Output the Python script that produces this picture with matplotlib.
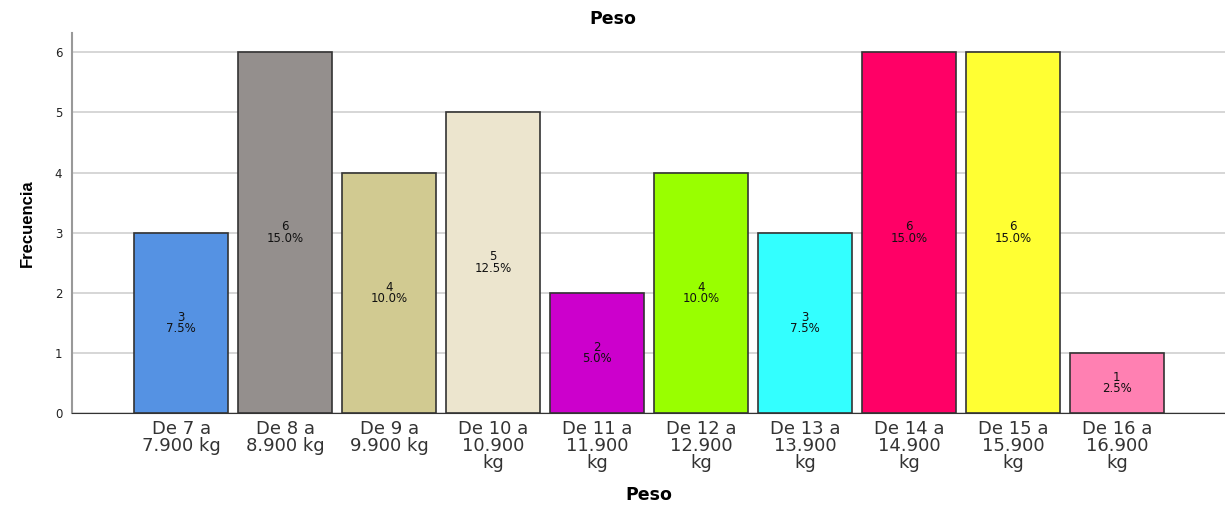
"""Bar chart of weight frequency ranges (Peso)."""
import matplotlib
matplotlib.use("Agg")
import matplotlib.pyplot as plt

# Data
categories = ["De 7 a\n7.900 kg", "De 8 a\n8.900 kg", "De 9 a\n9.900 kg",
              "De 10 a\n10.900\nkg", "De 11 a\n11.900\nkg", "De 12 a\n12.900\nkg",
              "De 13 a\n13.900\nkg", "De 14 a\n14.900\nkg", "De 15 a\n15.900\nkg",
              "De 16 a\n16.900\nkg"]
counts = [3, 6, 4, 5, 2, 4, 3, 6, 6, 1]
percents = [7.5, 15.0, 10.0, 12.5, 5.0, 10.0, 7.5, 15.0, 15.0, 2.5]
colors = ["#5592E3", "#948F8D", "#D1CA91", "#ECE5CE", "#CC00CC",
          "#99FF00", "#33FFFF", "#FF0066", "#FFFF33", "#FF80B2"]
yticks = [0, 1, 2, 3, 4, 5, 6]

plt.rcParams["font.family"] = ["DejaVu Sans"]

fig = plt.figure(figsize=(12.25, 5.08), dpi=100)
ax = fig.add_axes([0.0588, 0.187, 0.9412, 0.748])

x = list(range(len(counts)))
ax.bar(x, counts, width=0.9, color=colors, edgecolor="#333333",
       linewidth=1.2, zorder=3)

for xi, c, p in zip(x, counts, percents):
    ax.text(xi, c / 2, f"{c}\n{p:.1f}%", ha="center", va="center",
            fontsize=8.5, linespacing=0.85, color="#111111", zorder=4)

ax.set_xlim(-1.05, 10.04)
ax.set_ylim(0, 6.32)
ax.set_yticks(yticks)
ax.tick_params(axis="y", length=0, labelsize=8.5, pad=7, labelcolor="#222222")
ax.set_xticks(x)
ax.set_xticklabels(categories, fontsize=13, linespacing=0.92,
                   color="#333333", va="top")
ax.tick_params(axis="x", length=0, pad=5)
ax.grid(axis="y", color="#D0D0D0", linewidth=1.2, zorder=0)

for side in ["top", "right"]:
    ax.spines[side].set_visible(False)
ax.spines["left"].set_color("#999999")
ax.spines["left"].set_linewidth(1.5)
ax.spines["bottom"].set_color("#333333")

# Title is centred on the figure, not the axes
fig.text(0.5, 1 - 19 / 508, "Peso", ha="center", va="center",
         fontsize=12.5, fontweight="bold")
ax.set_xlabel("Peso", fontsize=12.5, fontweight="bold", labelpad=10)
ax.set_ylabel("Frecuencia", fontsize=12, fontweight="bold",
              family=["Liberation Sans"], labelpad=14)

fig.savefig("out.png", dpi=100)
